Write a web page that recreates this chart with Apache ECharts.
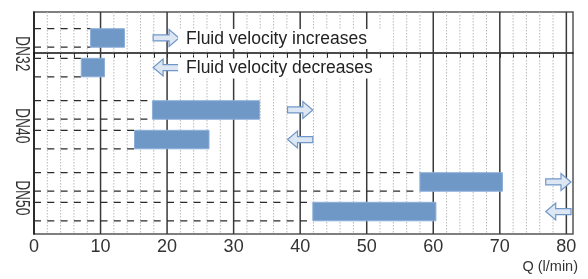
<!DOCTYPE html>
<html>
<head>
<meta charset="utf-8">
<script src="https://cdn.jsdelivr.net/npm/echarts@6/dist/echarts.min.js"></script>
<style>
html,body{margin:0;padding:0;background:#fff;}
#chart{width:588px;height:279px;}
</style>
</head>
<body>
<div id="chart"></div>
<script>
// ---- data ----
const categories = ['DN32', 'DN40', 'DN50'];
const increaseStart = [8.5, 17.8, 58.0];
const increaseEnd = [13.6, 33.9, 70.4];
const decreaseStart = [7.1, 15.1, 41.9];
const decreaseEnd = [10.6, 26.3, 60.4];
const majorTicks = [0, 10, 20, 30, 40, 50, 60, 70, 80];
const minorTicks = [2, 4, 6, 8, 12, 14, 16, 18, 22, 24, 26, 28, 32, 34, 36, 38,
  42, 44, 46, 48, 52, 54, 56, 58, 62, 64, 66, 68, 72, 74, 76, 78];
const arrowStart = [17.9, 38.1, 76.9];
const arrowEnd = [21.8, 41.9, 80.7];
const legendTexts = ['Fluid velocity increases', 'Fluid velocity decreases'];
const xAxisName = 'Q (l/min)';

// ---- styles ----
const FONT = '"Liberation Sans", Arial, Helvetica, sans-serif';
const ROW_OFF = 14.8;
const BAR_H = 18.5;

const barData = [];
categories.forEach((c, g) => {
  barData.push([g, 0, increaseStart[g], increaseEnd[g]]);
  barData.push([g, 1, decreaseStart[g], decreaseEnd[g]]);
});
const arrowData = [];
categories.forEach((c, g) => {
  arrowData.push([g, 0, arrowStart[g], arrowEnd[g]]);
  arrowData.push([g, 1, arrowStart[g], arrowEnd[g]]);
});

const chart = echarts.init(document.getElementById('chart'), null, {renderer: 'canvas'});

function vline(params, api, major) {
  const cs = params.coordSys;
  const x = api.coord([api.value(0), 0])[0];
  return {
    type: 'line',
    shape: {x1: x, y1: cs.y, x2: x, y2: cs.y + cs.height},
    style: major ? {stroke: '#3a3a3a', lineWidth: 1.5}
                 : {stroke: '#b8b8b8', lineWidth: 1, lineDash: [1.5, 1.5]}
  };
}

const option = {
  animation: false,
  backgroundColor: '#fff',
  grid: {left: 34, right: 15, top: 12, bottom: 45, show: true,
    borderColor: '#555', borderWidth: 1.5, backgroundColor: 'transparent'},
  xAxis: {
    type: 'value', min: 0, max: 81, interval: 2,
    axisLine: {show: true, lineStyle: {color: '#111', width: 1.5}},
    axisTick: {show: true, length: 5, lineStyle: {color: '#111', width: 1}},
    axisLabel: {
      show: true, margin: 4, color: '#333', fontSize: 18, fontFamily: FONT,
      showMaxLabel: false,
      formatter: v => (v % 10 === 0 ? String(v) : '')
    },
    splitLine: {show: false}
  },
  yAxis: {
    type: 'value', inverse: true, min: -0.566, max: 2.517,
    axisLine: {show: true, onZero: false, lineStyle: {color: '#111', width: 1.5}},
    axisTick: {show: false}, axisLabel: {show: false}, splitLine: {show: false}
  },
  graphic: [{
    type: 'text', right: 10, top: 259,
    style: {text: xAxisName, font: '14.5px ' + FONT, fill: '#333'}
  }],
  series: [
    { // minor grid
      type: 'custom', z: 1, silent: true,
      data: minorTicks.map(v => [v]),
      renderItem: (p, api) => vline(p, api, false)
    },
    { // major grid
      type: 'custom', z: 2, silent: true,
      data: majorTicks.filter(v => v > 0).map(v => [v]),
      renderItem: (p, api) => vline(p, api, true)
    },
    { // bars with dashed leaders
      type: 'custom', z: 5, silent: true,
      data: barData,
      renderItem: (params, api) => {
        const g = api.value(0), sub = api.value(1);
        const p0 = api.coord([api.value(2), g]);
        const p1 = api.coord([api.value(3), g]);
        const o = api.coord([0, g]);
        const cy = p0[1] + (sub === 0 ? -ROW_OFF : ROW_OFF);
        const t = cy - BAR_H / 2, b = cy + BAR_H / 2;
        const dash = {stroke: '#2a2a2a', lineWidth: 1.2, lineDash: [7, 6.3]};
        return {type: 'group', children: [
          {type: 'line', shape: {x1: o[0], y1: t, x2: p0[0], y2: t}, style: dash},
          {type: 'line', shape: {x1: o[0], y1: b, x2: p0[0], y2: b}, style: dash},
          {type: 'rect', shape: {x: p0[0], y: t, width: p1[0] - p0[0], height: BAR_H},
            style: {fill: '#7098c6', stroke: '#8cafd9', lineWidth: 1}}
        ]};
      }
    },
    { // arrows + legend texts
      type: 'custom', z: 6, silent: true,
      data: arrowData,
      renderItem: (params, api) => {
        const g = api.value(0), sub = api.value(1);
        const a = api.coord([api.value(2), g]);
        const e = api.coord([api.value(3), g]);
        const cy = a[1] + (sub === 0 ? -ROW_OFF : ROW_OFF);
        const x0 = a[0], x1 = e[0];
        const sh = 3, hh = 8.5, hl = 10;
        let pts;
        if (sub === 0) {
          pts = [[x0, cy - sh], [x1 - hl, cy - sh], [x1 - hl, cy - hh], [x1, cy],
                 [x1 - hl, cy + hh], [x1 - hl, cy + sh], [x0, cy + sh]];
        } else {
          pts = [[x1, cy - sh], [x0 + hl, cy - sh], [x0 + hl, cy - hh], [x0, cy],
                 [x0 + hl, cy + hh], [x0 + hl, cy + sh], [x1, cy + sh]];
        }
        const children = [{type: 'polygon', shape: {points: pts},
          style: {fill: '#dde7f3', stroke: '#7097c8', lineWidth: 1.2}}];
        if (g === 0) {
          children.push({type: 'text', x: x1 - 1, y: cy + 1, z2: 10,
            style: {text: legendTexts[sub], font: '17.5px ' + FONT, fill: '#222',
              align: 'left', verticalAlign: 'middle',
              backgroundColor: '#fff',
              padding: sub === 0 ? [1, 26, 1, 8] : [1, 12, 1, 8]}});
        }
        return {type: 'group', children: children};
      }
    },
    { // category labels (condensed, rotated)
      type: 'custom', z: 6, silent: true,
      data: categories.map((c, g) => [g]),
      renderItem: (params, api) => {
        const g = api.value(0);
        const p = api.coord([0, g]);
        return {type: 'text', x: p[0] - 12, y: p[1] + 1, rotation: -Math.PI / 2, scaleX: 0.69,
          style: {text: categories[g], font: '20px ' + FONT, fill: '#333',
            align: 'center', verticalAlign: 'middle'}};
      }
    }
  ]
};
chart.setOption(option);
</script>
</body>
</html>
